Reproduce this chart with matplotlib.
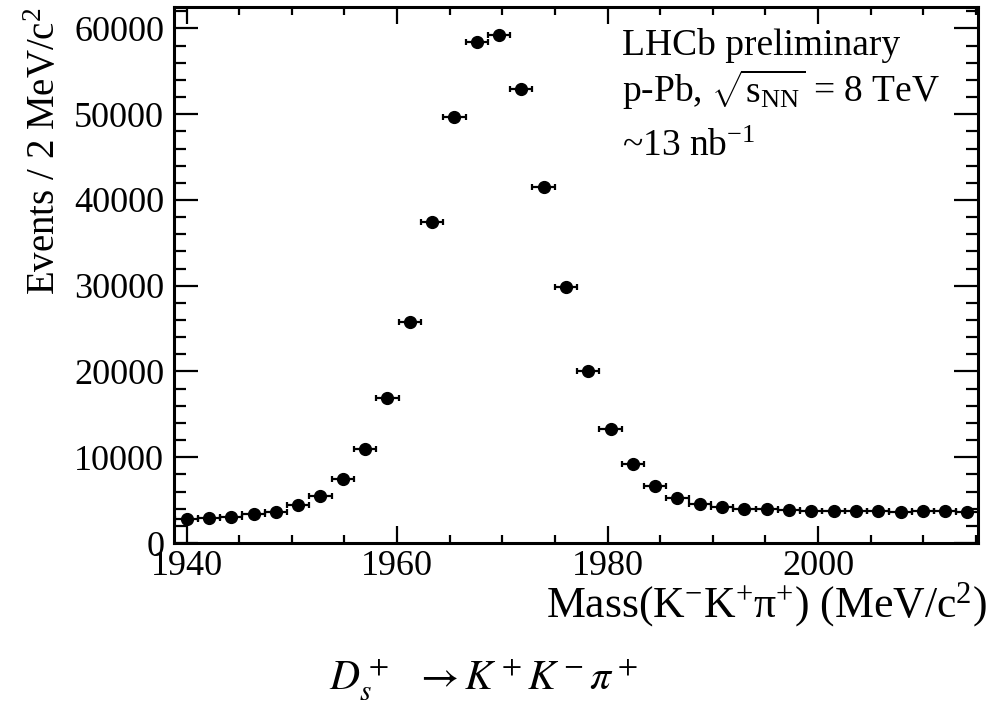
import numpy as np
import matplotlib.pyplot as plt
from matplotlib.ticker import MultipleLocator

plt.rcParams['font.family'] = ['Liberation Serif', 'DejaVu Serif']
plt.rcParams['mathtext.fontset'] = 'custom'
plt.rcParams['mathtext.rm'] = 'Liberation Serif'
plt.rcParams['mathtext.it'] = 'Liberation Serif:italic'

# D_s+ -> K+ K- pi+ candidates, 36 bins starting at 1938.94 MeV
bin_lo = 1938.94
bin_w = 2.12
counts = [2760, 2950, 3070, 3340, 3650, 4430, 5480, 7460, 10960, 16860,
          25800, 37380, 49630, 58470, 59280, 52900, 41530, 29800, 20050, 13290,
          9210, 6680, 5280, 4545, 4230, 3930, 3910, 3900, 3770, 3730,
          3680, 3680, 3620, 3680, 3690, 3650]

xlo, xhi = 1938.8, 2015.2
ymax = 62500

centres = bin_lo + bin_w * (np.arange(len(counts)) + 0.5)

fig = plt.figure(figsize=(9.92, 7.08), dpi=100)
ax = fig.add_axes([174/992, 1 - 543/708, (978 - 174)/992, (543 - 7)/708])

ax.errorbar(centres, counts, xerr=bin_w / 2, fmt='o', color='black',
            markersize=8.5, elinewidth=1.6, capsize=2.5, capthick=1.6)

ax.set_xlim(xlo, xhi)
ax.set_ylim(0, ymax)
ax.xaxis.set_major_locator(MultipleLocator(20))
ax.xaxis.set_minor_locator(MultipleLocator(5))
ax.yaxis.set_major_locator(MultipleLocator(10000))
ax.yaxis.set_minor_locator(MultipleLocator(2000))

for s in ax.spines.values():
    s.set_linewidth(2.2)
ax.tick_params(axis='both', which='both', direction='in', top=True, right=True,
               width=1.6, labelsize=26)
ax.tick_params(axis='x', which='major', length=12, pad=5)
ax.tick_params(axis='x', which='minor', length=6)
ax.tick_params(axis='y', which='major', length=17, pad=7)
ax.tick_params(axis='y', which='minor', length=8.5)

fig.text(0.995, 1 - 617/708, r'Mass(K$^{\mathrm{-}}$K$^{+}$π$^{+}$) (MeV/c$^{2}$)',
         ha='right', va='baseline', fontsize=31.5)
fig.text(46/992, 0.989, r'Events / 2 MeV/c$^{2}$', rotation=90,
         ha='center', va='top', fontsize=28)

tx = 621.7/992
fig.text(tx, 1 - 55/708, 'LHCb preliminary', ha='left', va='baseline', fontsize=27)
fig.text(tx, 1 - 102/708, r'p-Pb, $\sqrt{\mathrm{s}_{\mathrm{NN}}}$ = 8 TeV',
         ha='left', va='baseline', fontsize=27)
fig.text(tx, 1 - 156/708, r'~13 nb$^{\mathrm{-1}}$', ha='left', va='baseline', fontsize=27)

fig.text(0.487, 1 - 690/708, r'$D_s^+\ \ \rightarrow K^+K^-\pi^+$', ha='center',
         va='baseline', fontsize=30, math_fontfamily='stix')

fig.savefig('out.png', dpi=100)
